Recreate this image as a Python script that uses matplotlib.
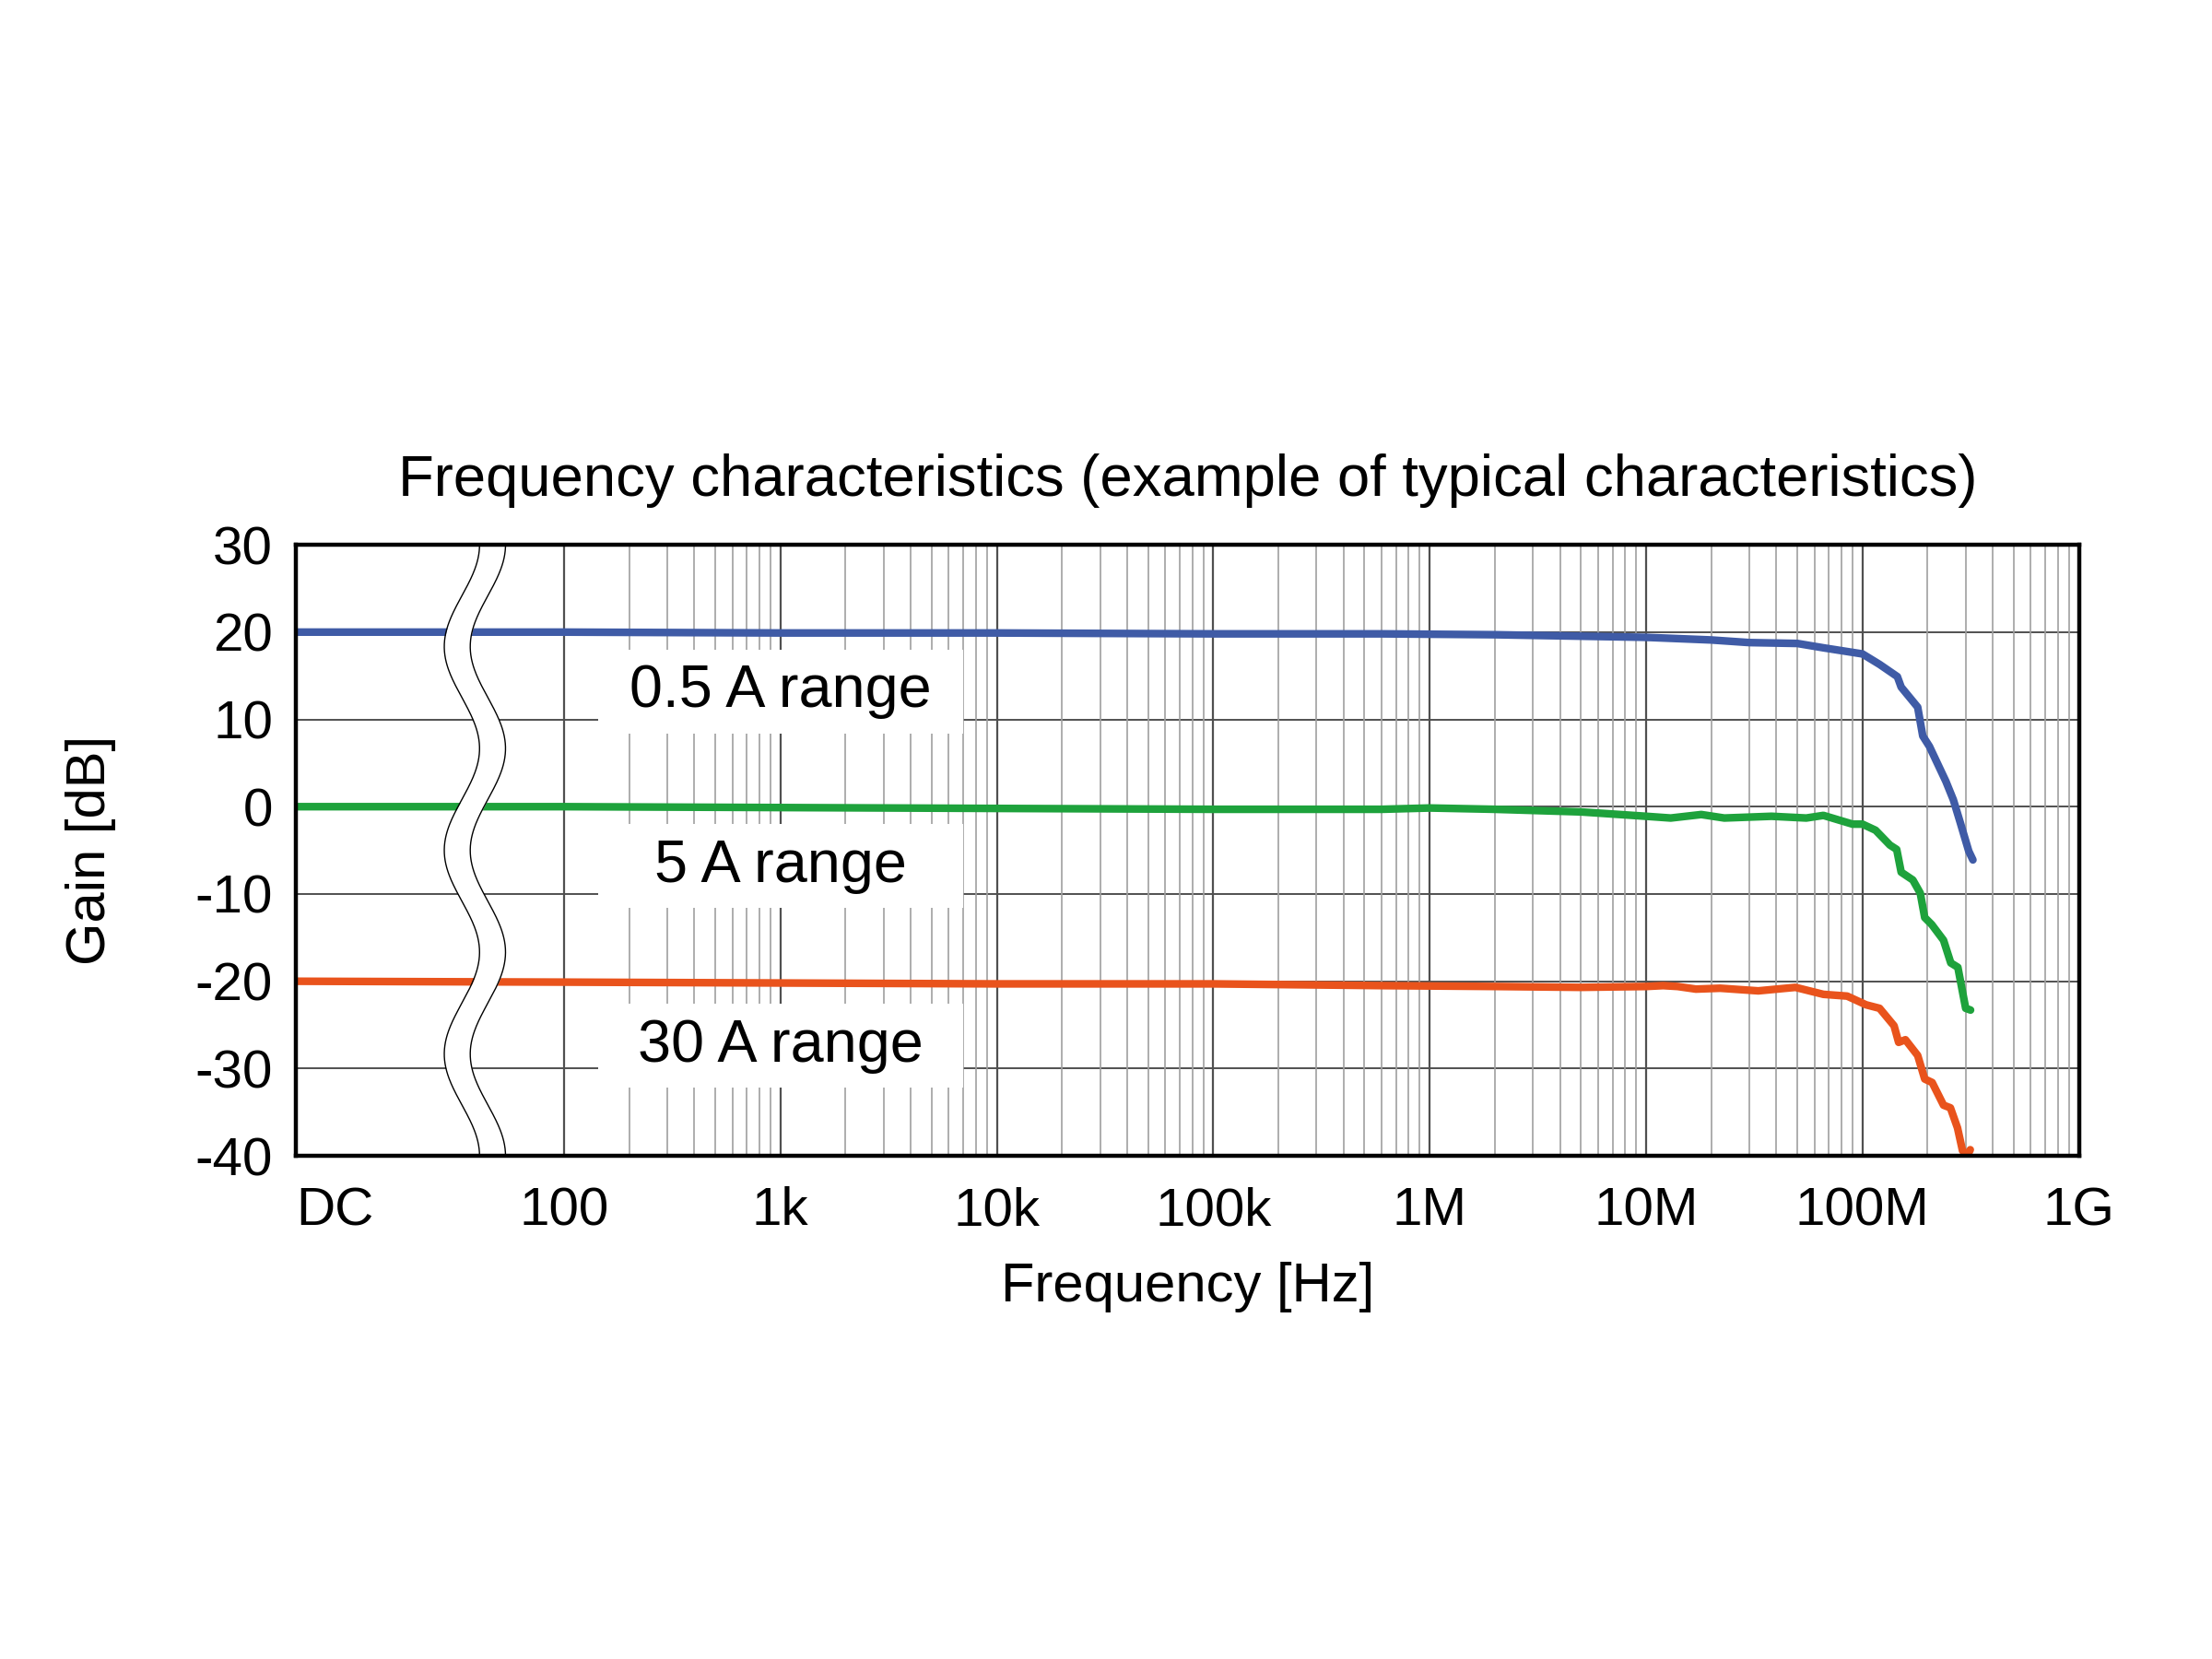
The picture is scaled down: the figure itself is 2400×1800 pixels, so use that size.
import numpy as np
import matplotlib.pyplot as plt
from matplotlib.patches import Rectangle

# frequency response of the three current ranges (Hz, dB)
blue_f = [5.77, 100, 1e3, 1e4, 1e5, 6e5, 2e6, 1e7, 2e7, 3e7, 5e7, 6.6e7, 1e8, 1.2e8,
          1.45e8, 1.51e8, 1.8e8, 1.9e8, 2.04e8, 2.43e8, 2.63e8, 2.83e8, 3.1e8, 3.24e8]
blue_g = [20.0, 20.0, 19.9, 19.9, 19.8, 19.8, 19.7, 19.4, 19.1, 18.8, 18.7, 18.2, 17.5, 16.3,
          14.9, 13.7, 11.4, 8.1, 6.9, 2.9, 0.8, -1.8, -5.1, -6.1]

green_f = [5.77, 100, 1e3, 1e4, 1e5, 6e5, 1e6, 2e6, 5e6, 1e7, 1.3e7, 1.8e7, 2.3e7, 3.8e7,
           5.5e7, 6.6e7, 9e7, 1e8, 1.15e8, 1.34e8, 1.44e8, 1.51e8, 1.71e8, 1.85e8, 1.94e8,
           2.09e8, 2.37e8, 2.56e8, 2.76e8, 2.9e8, 3.0e8, 3.16e8]
green_g = [0.0, 0.0, -0.1, -0.2, -0.3, -0.3, -0.15, -0.3, -0.6, -1.1, -1.3, -0.9, -1.3, -1.1,
           -1.3, -1.0, -2.0, -2.0, -2.7, -4.4, -4.9, -7.5, -8.4, -9.9, -12.7,
           -13.5, -15.3, -17.9, -18.4, -21.2, -23.1, -23.3]

red_f = [5.77, 100, 1e3, 1e4, 1e5, 6e5, 2e6, 5e6, 1e7, 1.2e7, 1.4e7, 1.7e7, 2.2e7, 3.3e7,
         4.9e7, 6.6e7, 8.5e7, 1.04e8, 1.2e8, 1.4e8, 1.47e8, 1.58e8, 1.8e8, 1.94e8, 2.1e8,
         2.37e8, 2.55e8, 2.75e8, 2.9e8, 3.05e8, 3.15e8]
red_g = [-20.0, -20.1, -20.2, -20.3, -20.3, -20.5, -20.6, -20.7, -20.6, -20.5, -20.6, -20.9,
         -20.8, -21.1, -20.7, -21.5, -21.7, -22.7, -23.1, -25.1, -27.0, -26.7, -28.5, -31.2,
         -31.6, -34.2, -34.5, -36.8, -39.4, -40.0, -39.3]

range_labels = ['0.5 A range', '5 A range', '30 A range']
label_y = [13.2, -6.8, -27.4]

x_ticks = [8.75, 1e2, 1e3, 1e4, 1e5, 1e6, 1e7, 1e8, 1e9]
x_labels = ['DC', '100', '1k', '10k', '100k', '1M', '10M', '100M', '1G']
y_ticks = [30, 20, 10, 0, -10, -20, -30, -40]

plt.rcParams['font.family'] = ['Liberation Sans', 'DejaVu Sans']
fig = plt.figure(figsize=(12, 9), dpi=200)
ax = fig.add_axes([0.1338, 0.3033, 0.806, 0.3683])
ax.set_xscale('log')
ax.set_xlim(5.77, 1e9)
ax.set_ylim(-40, 30)

# grid: horizontal lines, decade lines and the 2..9 lines from 100 Hz up
for y in y_ticks:
    ax.axhline(y, color='#505050', lw=0.7, zorder=1)
for n in range(2, 9):
    ax.axvline(10.0 ** n, color='#505050', lw=0.8, zorder=1)
    for k in range(2, 10):
        ax.axvline(k * 10.0 ** n, color='#a0a0a0', lw=0.6, zorder=1)

ax.plot(blue_f, blue_g, color='#3f5ba6', lw=3, zorder=3, solid_capstyle='round', solid_joinstyle='round')
ax.plot(green_f, green_g, color='#1ea23c', lw=3, zorder=3, solid_capstyle='round', solid_joinstyle='round')
ax.plot(red_f, red_g, color='#e9531c', lw=3, zorder=3, solid_capstyle='round', solid_joinstyle='round')

# wavy axis break between DC and 100 Hz
yy = np.linspace(-40, 30, 500)
xc = 1.588 + 0.0815 * np.cos(2 * np.pi * (yy - 30) / (70 / 3))
left = 10 ** (xc - 0.06)
right = 10 ** (xc + 0.06)
ax.fill_betweenx(yy, left, right, color='white', lw=0, zorder=4)
ax.plot(left, yy, color='black', lw=0.5, zorder=4)
ax.plot(right, yy, color='black', lw=0.5, zorder=4)

# range labels on white boxes that hide the grid
for txt, y in zip(range_labels, label_y):
    ax.add_patch(Rectangle((10 ** 2.157, y - 4.8), 10 ** 3.843 - 10 ** 2.157, 9.6,
                           fc='white', ec='none', zorder=4))
    ax.text(1e3, y, txt, ha='center', va='center', fontsize=23.3, zorder=5)

ax.set_xticks(x_ticks)
ax.set_xticklabels(x_labels)
ax.xaxis.set_minor_locator(plt.NullLocator())
ax.set_yticks(y_ticks)
ax.set_yticklabels([str(v) for v in y_ticks])
ax.tick_params(length=0, labelsize=21)
ax.tick_params(axis='x', pad=12)
ax.tick_params(axis='y', pad=9)

for s in ax.spines.values():
    s.set_linewidth(1.6)
    s.set_zorder(6)

ax.set_title('Frequency characteristics (example of typical characteristics)', fontsize=22.8, pad=19)
ax.set_xlabel('Frequency [Hz]', fontsize=21.5)
ax.set_ylabel('Gain [dB]', fontsize=21.5)
ax.xaxis.set_label_coords(0.5, -0.173)
ax.yaxis.set_label_coords(-0.101, 0.5)

fig.savefig('out.png', dpi=200)
